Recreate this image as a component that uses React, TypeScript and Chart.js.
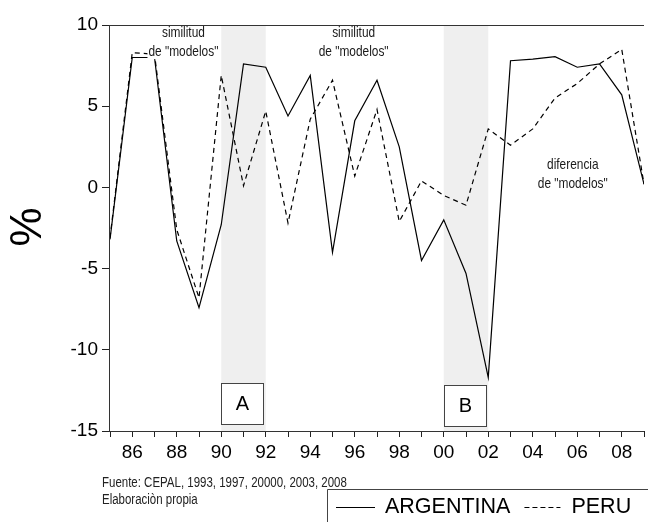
import React, { useEffect, useRef } from 'react';
import { Chart, registerables } from 'chart.js';

Chart.register(...registerables);

const years = [1985, 1986, 1987, 1988, 1989, 1990, 1991, 1992, 1993, 1994, 1995, 1996, 1997, 1998, 1999, 2000, 2001, 2002, 2003, 2004, 2005, 2006, 2007, 2008, 2009];
const argentina = [-3.2, 8.0, 8.0, -3.3, -7.4, -2.3, 7.6, 7.4, 4.4, 6.9, -4.0, 4.1, 6.6, 2.5, -4.5, -2.0, -5.3, -11.7, 7.8, 7.9, 8.05, 7.4, 7.6, 5.7, 0.2];
const peru = [-3.1, 8.3, 8.2, -2.6, -6.8, 6.9, 0.1, 4.7, -2.2, 4.2, 6.6, 0.7, 4.8, -2.1, 0.4, -0.5, -1.1, 3.6, 2.6, 3.6, 5.5, 6.4, 7.6, 8.5, 0.2];
const seriesNames = ['ARGENTINA', 'PERU'];
const shadedStart = [1990, 2000];
const shadedEnd = [1992, 2002];
const periodLabels = ['A', 'B'];
const yTickValues = [10, 5, 0, -5, -10, -15];
const notes = [
  { x: 1988.3, y: 9.5, lines: ['similitud', 'de "modelos"'] },
  { x: 1995.95, y: 9.5, lines: ['similitud', 'de "modelos"'] },
  { x: 2005.8, y: 1.4, lines: ['diferencia', 'de "modelos"'] },
];
const footnotes = ['Fuente: CEPAL, 1993, 1997, 20000, 2003, 2008', 'Elaboraciòn propia'];
const yAxisTitle = '%';

const FONT = '"Liberation Sans", Arial, Helvetica, sans-serif';
const NARROW_SCALE = 0.82;

function narrowText(ctx: CanvasRenderingContext2D, text: string, x: number, y: number, align: CanvasTextAlign) {
  ctx.save();
  ctx.translate(x, y);
  ctx.scale(NARROW_SCALE, 1);
  ctx.textAlign = align;
  ctx.fillText(text, 0, 0);
  ctx.restore();
}

export default function App() {
  const ref = useRef<HTMLCanvasElement>(null);

  useEffect(() => {
    const canvas = ref.current;
    if (!canvas) return;

    const overlay = {
      id: 'overlay',
      beforeDatasetsDraw(chart: any) {
        const { ctx, chartArea, scales } = chart;
        const xs = scales.x;
        ctx.save();
        ctx.fillStyle = '#efefef';
        for (let i = 0; i < shadedStart.length; i++) {
          const x0 = xs.getPixelForValue(shadedStart[i]);
          const x1 = xs.getPixelForValue(shadedEnd[i]);
          ctx.fillRect(x0, chartArea.top, x1 - x0, chartArea.bottom - chartArea.top);
        }
        ctx.restore();
      },
      afterDatasetsDraw(chart: any) {
        const { ctx, chartArea, scales } = chart;
        const xs = scales.x;
        const ys = scales.y;
        ctx.save();
        // annotation texts
        ctx.font = `14.5px ${FONT}`;
        ctx.textBaseline = 'middle';
        notes.forEach((n) => {
          const cx = xs.getPixelForValue(n.x);
          const cy = ys.getPixelForValue(n.y);
          n.lines.forEach((line, j) => {
            const yy = cy + j * 19;
            const w = ctx.measureText(line).width * NARROW_SCALE;
            ctx.fillStyle = '#ffffff';
            ctx.fillRect(cx - w / 2 - 1, yy - 7, w + 2, 14);
            ctx.fillStyle = '#1a1a1a';
            narrowText(ctx, line, cx, yy, 'center');
          });
        });
        // A / B boxes
        for (let i = 0; i < shadedStart.length; i++) {
          const x0 = Math.round(xs.getPixelForValue(shadedStart[i])) + (i === 1 ? 0 : 0);
          const w = 42;
          const y0 = chartArea.bottom - 48 + (i === 1 ? 2 : 0);
          const h = 41;
          ctx.fillStyle = '#ffffff';
          ctx.fillRect(x0, y0, w, h);
          ctx.strokeStyle = '#444';
          ctx.lineWidth = 1;
          ctx.strokeRect(x0 + 0.5, y0 + 0.5, w, h);
          ctx.fillStyle = '#000';
          ctx.font = `20px ${FONT}`;
          ctx.textAlign = 'center';
          ctx.textBaseline = 'middle';
          ctx.fillText(periodLabels[i], x0 + w / 2 + 0.5, y0 + h / 2 + 1);
        }
        ctx.restore();
      },
      afterDraw(chart: any) {
        const { ctx, chartArea } = chart;
        ctx.save();
        // frame lines
        ctx.strokeStyle = '#333';
        ctx.lineWidth = 1;
        ctx.beginPath();
        ctx.moveTo(chartArea.left - 0.5, chartArea.top + 0.5);
        ctx.lineTo(chartArea.right, chartArea.top + 0.5);
        ctx.moveTo(chartArea.left - 0.5, chartArea.top);
        ctx.lineTo(chartArea.left - 0.5, chartArea.bottom + 0.5);
        ctx.lineTo(chartArea.right, chartArea.bottom + 0.5);
        ctx.stroke();

        // y-axis title
        ctx.fillStyle = '#000';
        ctx.font = `44px ${FONT}`;
        ctx.textAlign = 'center';
        ctx.textBaseline = 'middle';
        ctx.translate(29, 227);
        ctx.rotate(-Math.PI / 2);
        ctx.fillText(yAxisTitle, 0, 0);
        ctx.setTransform(1, 0, 0, 1, 0, 0);

        // footnotes
        ctx.font = `14px ${FONT}`;
        ctx.textBaseline = 'alphabetic';
        ctx.fillStyle = '#222';
        narrowText(ctx, footnotes[0], 102, 487, 'left');
        narrowText(ctx, footnotes[1], 102, 503.5, 'left');

        // legend
        ctx.strokeStyle = '#444';
        ctx.lineWidth = 1;
        ctx.beginPath();
        ctx.moveTo(327.5, 522);
        ctx.lineTo(327.5, 489.5);
        ctx.lineTo(648, 489.5);
        ctx.stroke();

        ctx.strokeStyle = '#000';
        ctx.lineWidth = 1.2;
        ctx.beginPath();
        ctx.moveTo(336, 507.5);
        ctx.lineTo(375, 507.5);
        ctx.stroke();
        ctx.font = `21.5px ${FONT}`;
        ctx.fillStyle = '#000';
        ctx.textAlign = 'left';
        ctx.textBaseline = 'middle';
        ctx.fillText(seriesNames[0], 385, 507);
        const w0 = ctx.measureText(seriesNames[0]).width;
        const dx = 385 + w0 + 14;
        ctx.setLineDash([5, 3]);
        ctx.beginPath();
        ctx.moveTo(dx, 507.5);
        ctx.lineTo(dx + 36, 507.5);
        ctx.stroke();
        ctx.setLineDash([]);
        ctx.fillText(seriesNames[1], dx + 47, 507);
        ctx.restore();
      },
    };

    const chart = new Chart(canvas, {
      type: 'line',
      data: {
        datasets: [
          {
            label: seriesNames[0],
            data: years.map((yr, i) => ({ x: yr, y: argentina[i] })),
            borderColor: '#000',
            borderWidth: 1.2,
            pointRadius: 0,
            tension: 0,
            fill: false,
          },
          {
            label: seriesNames[1],
            data: years.map((yr, i) => ({ x: yr, y: peru[i] })),
            borderColor: '#000',
            borderWidth: 1.2,
            borderDash: [5, 4],
            pointRadius: 0,
            tension: 0,
            fill: false,
          },
        ],
      },
      options: {
        responsive: false,
        animation: false,
        events: [],
        layout: { padding: { top: 25, left: 0, right: 0, bottom: 0 } },
        plugins: { legend: { display: false }, tooltip: { enabled: false }, title: { display: false } },
        scales: {
          x: {
            type: 'linear',
            min: years[0],
            max: years[years.length - 1],
            afterFit: (s: any) => { s.height = 91; },
            afterBuildTicks: (s: any) => { s.ticks = years.map((v) => ({ value: v })); },
            grid: { drawOnChartArea: false, tickLength: 6, color: '#222', tickWidth: 1 },
            border: { display: false },
            ticks: {
              autoSkip: false,
              maxRotation: 0,
              minRotation: 0,
              padding: 4,
              color: '#000',
              font: { family: FONT, size: 19 },
              callback: (v: any) => (Number(v) % 2 === 0 ? String(Number(v) % 100).padStart(2, '0') : ''),
            },
          },
          y: {
            type: 'linear',
            min: -15,
            max: 10,
            afterFit: (s: any) => { s.width = 110; },
            afterBuildTicks: (s: any) => { s.ticks = yTickValues.map((v) => ({ value: v })); },
            grid: { drawOnChartArea: false, tickLength: 8, color: '#222', tickWidth: 1 },
            border: { display: false },
            ticks: {
              padding: 4,
              color: '#000',
              font: { family: FONT, size: 19 },
              callback: (v: any) => String(v),
            },
          },
        },
      },
      plugins: [overlay],
    } as any);

    return () => chart.destroy();
  }, []);

  return (
    <div style={{ position: 'fixed', left: 0, top: 0, width: 648, height: 522, background: '#fff' }}>
      <canvas ref={ref} width={648} height={522} style={{ display: 'block', width: 648, height: 522 }} />
    </div>
  );
}
